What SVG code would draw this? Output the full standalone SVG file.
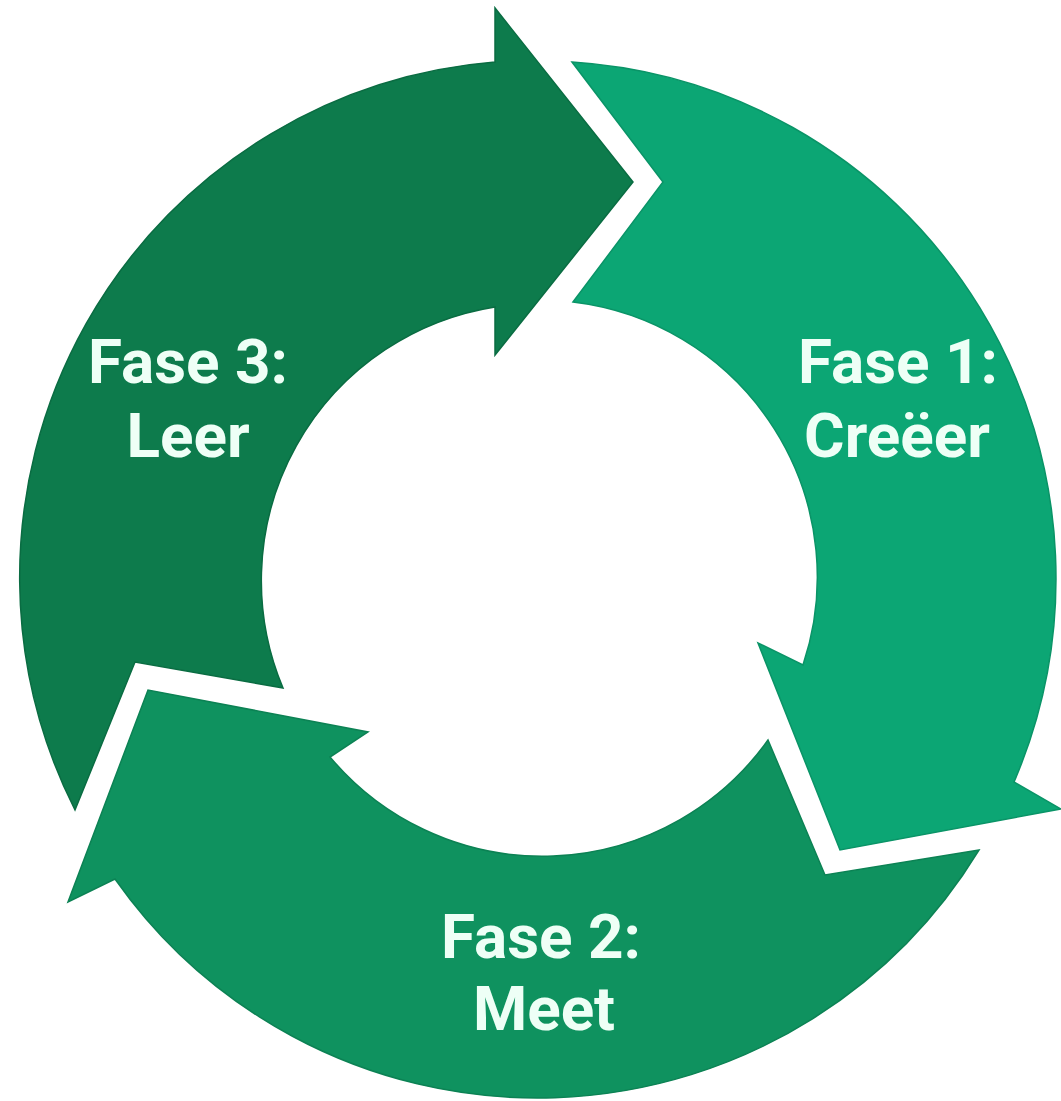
<svg xmlns="http://www.w3.org/2000/svg" width="1061" height="1101" viewBox="0 0 1061 1101">
  <style>
    .lbl { font-family: Roboto, "Liberation Sans", "DejaVu Sans", sans-serif; font-weight: 700; font-size: 62px; fill: #eefff6; text-anchor: middle; }
    .arrow { stroke-width: 1.5; stroke-linejoin: miter; }
    .a1 { fill: #0ca674; stroke: #0a9467; }
    .a2 { fill: #0f925f; stroke: #0c8254; }
    .a3 { fill: #0d7b4c; stroke: #0a6c42; }
  </style>
  <rect width="1061" height="1101" fill="#ffffff"/>
  <g id="phase1">
    <path class="arrow a1" d="M 572 62 A 517 517 0 0 1 1014 782 L 1061 809 L 840 850 L 758 643 L 803 665 A 277 277 0 0 0 573 302 L 663 182 Z"/>
    <text class="lbl" x="898" y="383">Fase 1:</text>
    <text class="lbl" x="897" y="457">Creëer</text>
  </g>
  <g id="phase2">
    <path class="arrow a2" d="M 979 850 A 517 517 0 0 1 115 879 L 68 902 L 148 690 L 368 732 L 330 757 A 277 277 0 0 0 768 740 L 825 875 Z"/>
    <text class="lbl" x="541" y="958">Fase 2:</text>
    <text class="lbl" x="544" y="1030">Meet</text>
  </g>
  <g id="phase3">
    <path class="arrow a3" d="M 75 810 A 517 517 0 0 1 495 62 L 495 8 L 633 182 L 495 355 L 495 307 A 277 277 0 0 0 283 688 L 135 662 Z"/>
    <text class="lbl" x="188" y="383">Fase 3:</text>
    <text class="lbl" x="188" y="457">Leer</text>
  </g>
  <g id="connectors"></g>
</svg>
